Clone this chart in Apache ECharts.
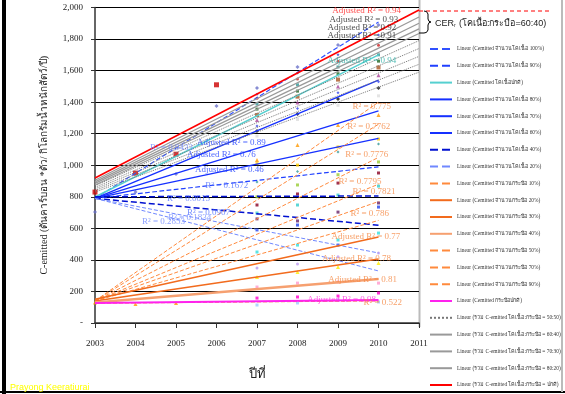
<!DOCTYPE html>
<html><head><meta charset="utf-8">
<script src="https://cdn.jsdelivr.net/npm/echarts@6/dist/echarts.min.js"></script>
<style>html,body{margin:0;padding:0;background:#fff}#c{width:565px;height:394px}</style>
</head><body><div id="c"></div><script>
// ---------- data ----------
const years = [2003, 2004, 2005, 2006, 2007, 2008, 2009, 2010];
const xTickLabels = ['2003','2004','2005','2006','2007','2008','2009','2010','2011'];
const yTicks = [0, 200, 400, 600, 800, 1000, 1200, 1400, 1600, 1800, 2000];

const legendNames = [
  'Linear (Cemitted จำนวนโคเนื้อ 100%)',
  'Linear (Cemitted จำนวนโคเนื้อ 90%)',
  'Linear (Cemitted โคเนื้อปกติ)',
  'Linear (Cemitted จำนวนโคเนื้อ 80%)',
  'Linear (Cemitted จำนวนโคเนื้อ 70%)',
  'Linear (Cemitted จำนวนโคเนื้อ 60%)',
  'Linear (Cemitted จำนวนโคเนื้อ 40%)',
  'Linear (Cemitted จำนวนโคเนื้อ 20%)',
  'Linear (Cemitted จำนวนกระบือ 10%)',
  'Linear (Cemitted จำนวนกระบือ 20%)',
  'Linear (Cemitted จำนวนกระบือ 30%)',
  'Linear (Cemitted จำนวนกระบือ 40%)',
  'Linear (Cemitted จำนวนกระบือ 50%)',
  'Linear (Cemitted จำนวนกระบือ 70%)',
  'Linear (Cemitted จำนวนกระบือ 90%)',
  'Linear (Cemitted กระบือปกติ)',
  'Linear (รวม C-emitted โคเนื้อ:กระบือ = 50:50)',
  'Linear (รวม C-emitted โคเนื้อ:กระบือ = 60:40)',
  'Linear (รวม C-emitted โคเนื้อ:กระบือ = 70:30)',
  'Linear (รวม C-emitted โคเนื้อ:กระบือ = 80:20)',
  'Linear (รวม C-emitted โคเนื้อ:กระบือ = ปกติ)'
];

// trend lines: legend index, value at 2003, value at end year, end year
const trendLegend  = [0,    1,   2,    3,    4,    5,    6,   6,   7,   7,   8,    12,   12,   13,  13,  14,  14,  9,   10,  11,  15,  20,   19,   18,   17,   17,   16,   16,   16,   16,   16];
const trendStart   = [790,  790, 799,  790,  790,  790,  800, 790, 790, 790, 140,  140,  140,  140, 140, 140, 125, 150, 140, 130, 127, 919,  905,  895,  885,  875,  870,  860,  850,  840,  830];
const trendEnd     = [1908, 990, 1700, 1540, 1345, 1170, 805, 620, 444, 330, 1400, 1260, 1050, 880, 770, 650, 140, 545, 405, 279, 146, 1984, 1940, 1900, 1865, 1835, 1790, 1740, 1690, 1640, 1590];
const trendEndYear = [2010, 2010,2010, 2010, 2010, 2010, 2010,2010,2010,2010,2010, 2010, 2010, 2010,2010,2010,2010,2010,2010,2010,2010,2011, 2011, 2011, 2011, 2011, 2011, 2011, 2011, 2011, 2011];

// observed points (2003..2010)
const ptsRedSquare = [830, 950, 1070, 1510, null, null, null, null];
const ptsBlueCross = [704, 830, 945, 1375, 1490, 1623, 1762, 1889];
const ptsTop1  = [null, null, null, null, 1450, 1585, 1700, 1825];
const ptsTop2  = [null, null, null, null, 1425, 1547, 1660, 1760];
const ptsTop3  = [null, null, null, null, 1388, 1510, 1623, 1700];
const ptsTop4  = [null, null, null, null, 1356, 1470, 1580, 1660];
const ptsTop5  = [null, null, null, null, 1318, 1435, 1543, 1620];
const ptsTop6  = [null, null, null, null, 1287, 1398, 1500, 1570];
const ptsTop7  = [null, null, null, null, 1249, 1360, 1460, 1530];
const ptsTop8  = [null, null, null, null, 1217, 1325, 1420, 1490];
const ptsTop9  = [null, null, null, null, 1185, 1290, 1380, 1440];
const ptsOrange = [130, 120, 127, null, 1033, 1128, 1255, 1318];
const ptsYellow = [null, null, null, null, 1010, 1001, 1116, 1166];
const ptsTeal   = [null, null, null, null, 894, 960, 1084, 1135];
const ptsGreen  = [null, null, null, null, 800, 875, 940, 1021];
const ptsDarkRed= [null, null, null, null, 748, 818, 887, 951];
const ptsCyan   = [null, null, null, null, 697, 748, 811, 868];
const ptsPurple = [null, null, null, null, 660, 647, 703, 761];
const ptsBlue   = [null, null, null, null, 590, 621, 494, 735];
const ptsCyan2  = [null, null, null, null, 450, 494, 526, 570];
const ptsLav    = [null, null, null, null, 349, 374, 420, 444];
const ptsYellow2= [null, null, null, null, 292, 323, 355, 380];
const ptsPink   = [null, null, null, null, 228, 253, 260, 253];
const ptsMagenta= [null, null, null, null, 158, 165, 171, 190];
const ptsLight  = [null, null, null, null, 114, 127, 146, 133];

// annotations: text, year, value
const annTexts  = ['Adjusted R² = 0.94','Adjusted R² = 0.93','Adjusted R² = 0.92','Adjusted R² = 0.91','Adjusted R² = 0.94',
  'R² = 0.775','R² = 0.7762','R² = 0.7776','R² = 0.7795','R² = 0.7821','R² = 0.786',
  'Adjusted R² = 0.77','Adjusted R² = 0.78','Adjusted R² = 0.81','Adjusted R² = 0.98','R² = 0.522',
  'Adjusted R² = 0.89','Adjusted R² = 0.76','Adjusted R² = 0.46','R² = 0.1672','R² = 0.0015','R² = 0.0907','R² = 0.1834','R² = 0.2853','R² = 0.9433'];
const annYears  = [2008.86,2008.79,2008.74,2008.74,2008.74, 2009.36,2009.23,2009.18,2009.01,2009.36,2009.31, 2008.84,2008.61,2008.76,2008.24,2009.63, 2005.52,2005.27,2005.47,2005.72,2004.78,2005.27,2004.81,2004.16,2004.36];
const annValues = [1978,1921,1870,1819,1661, 1369,1242,1065,894,830,691, 545,406,273,146,127, 1141,1065,970,868,786,697,666,640,1109];

// ---------- styles ----------
const legendStyle = [
  {c:'#3050ff', t:'dashed', w:1.2}, {c:'#2040ff', t:'dashed', w:1.2}, {c:'#55d0d0', t:'solid', w:1.5},
  {c:'#1530ff', t:'solid', w:1.3}, {c:'#1530ff', t:'solid', w:1.3}, {c:'#1530ff', t:'solid', w:1.3},
  {c:'#0010d0', t:'dashed', w:1.5}, {c:'#7088ff', t:'dashed', w:1},
  {c:'#ff8a3d', t:'dashed', w:1}, {c:'#f26b1d', t:'solid', w:1.5}, {c:'#f26b1d', t:'solid', w:1.5},
  {c:'#f6a070', t:'solid', w:2.5}, {c:'#ff8a3d', t:'dashed', w:1}, {c:'#ff8a3d', t:'dashed', w:1},
  {c:'#ff8a3d', t:'dashed', w:1}, {c:'#ff22ee', t:'solid', w:2},
  {c:'#777777', t:'dotted', w:1}, {c:'#999999', t:'solid', w:1.3}, {c:'#999999', t:'solid', w:1.3},
  {c:'#999999', t:'solid', w:1.3}, {c:'#ff0000', t:'solid', w:1.6}
];
const annColors = ['#ff2020','#222','#222','#222','#30b0a8',
  '#f58a45','#f58a45','#f58a45','#f58a45','#f58a45','#f58a45',
  '#f58a45','#f58a45','#f58a45','#ff33dd','#f58a45',
  '#2040ff','#2040ff','#2040ff','#5070ff','#5070ff','#5070ff','#6f88ff','#6f88ff','#6f88ff'];
const pointSets = [
  [ptsRedSquare,'#cc0000','rect',5],[ptsBlueCross,'#6a70c8','diamond',4],
  [ptsTop1,'#3344cc','diamond',3],[ptsTop2,'#cc2222','circle',3],[ptsTop3,'#339999','rect',3],
  [ptsTop4,'#226622','rect',3],[ptsTop5,'#aa5522','rect',4],[ptsTop6,'#aa4499','triangle',4],
  [ptsTop7,'#3344ee','diamond',3],[ptsTop8,'#111111','diamond',4],[ptsTop9,'#dddddd','rect',3],
  [ptsOrange,'#ff9900','triangle',4],[ptsYellow,'#ffcc00','rect',3],[ptsTeal,'#339999','diamond',3],
  [ptsGreen,'#99cc33','rect',3],[ptsDarkRed,'#880022','rect',3],[ptsCyan,'#33cccc','rect',3],
  [ptsPurple,'#662266','rect',3],[ptsBlue,'#2244ee','rect',3],[ptsCyan2,'#33dddd','rect',3],
  [ptsLav,'#bb99ee','circle',3],[ptsYellow2,'#ffee00','triangle',4],[ptsPink,'#ff99cc','rect',3],
  [ptsMagenta,'#ff00cc','rect',3],[ptsLight,'#99ccff','rect',3]
];

// ---------- build ----------
const series = [];
pointSets.forEach((p, i) => {
  series.push({
    name: 'pts' + i, type: 'scatter', symbol: p[2], symbolSize: p[3], z: 2,
    itemStyle: { color: p[1] },
    data: years.map((y, k) => p[0][k] == null ? null : [y, p[0][k]]).filter(d => d)
  });
});
trendLegend.forEach((li, i) => {
  const s = legendStyle[li];
  series.push({
    name: legendNames[li], type: 'line', symbol: 'none', showSymbol: false, z: 3, silent: true,
    lineStyle: { color: s.c, type: s.t, width: s.w }, itemStyle: { color: s.c, opacity: 0 },
    data: [[2003, trendStart[i]], [trendEndYear[i], trendEnd[i]]]
  });
});
series.push({
  name: 'ann', type: 'scatter', symbolSize: 0, z: 5, silent: true,
  data: annTexts.map((t, i) => ({
    value: [annYears[i], annValues[i]],
    label: { show: true, position: 'right', distance: 0, formatter: t,
      color: annColors[i], fontFamily: 'Liberation Serif', fontSize: 9 }
  }))
});

const chart = echarts.init(document.getElementById('c'), null, { renderer: 'canvas' });
const serif = 'Liberation Serif';
chart.setOption({
  animation: false,
  backgroundColor: '#ffffff',
  grid: { left: 95, right: 146, top: 7.5, bottom: 71 },
  xAxis: {
    type: 'value', min: 2003, max: 2011, interval: 1,
    axisLine: { lineStyle: { color: '#333', width: 1.5 } },
    axisTick: { show: true, length: 5, lineStyle: { color: '#333' } },
    axisLabel: { margin: 16, fontFamily: serif, fontSize: 9, color: '#222',
      formatter: v => xTickLabels[Math.round(v - 2003)] },
    splitLine: { show: false },
    name: 'ปีที่', nameLocation: 'middle', nameGap: 45,
    nameTextStyle: { fontFamily: serif, fontSize: 13, color: '#222' }
  },
  yAxis: {
    type: 'value', min: yTicks[0], max: yTicks[yTicks.length - 1], interval: 200,
    axisLine: { show: true, lineStyle: { color: '#333', width: 1.5 } },
    axisTick: { show: true, length: 4, lineStyle: { color: '#333' } },
    axisLabel: { margin: 12, fontFamily: serif, fontSize: 9, color: '#222',
      formatter: v => v === 0 ? '-' : v.toLocaleString('en-US') },
    splitLine: { lineStyle: { color: '#000', width: 1 } },
    name: 'C-emitted (ตันคาร์บอน *ตัว/ กิโลกรัมน้ำหนักสัตว์/ปี)', nameLocation: 'middle', nameGap: 46,
    nameTextStyle: { fontFamily: serif, fontSize: 10, color: '#222' }
  },
  legend: {
    data: legendNames, orient: 'vertical', left: 424, top: 41,
    itemWidth: 22, itemHeight: 6, itemGap: 10.8, selectedMode: false,
    itemStyle: { opacity: 0 },
    textStyle: { fontFamily: serif, fontSize: 5.4, lineHeight: 6, color: '#333' }
  },
  graphic: [
    { type: 'rect', shape: { x: 2, y: 0, width: 4, height: 394 }, style: { fill: '#000' }, silent: true },
    { type: 'line', shape: { x1: 0, y1: 392, x2: 565, y2: 392 }, style: { stroke: '#000', lineWidth: 2 }, silent: true },
    { type: 'line', shape: { x1: 562, y1: 0, x2: 562, y2: 392 }, style: { stroke: '#bbb', lineWidth: 2 }, silent: true },
    { type: 'line', shape: { x1: 419.5, y1: 0, x2: 419.5, y2: 327 }, style: { stroke: '#bbb', lineWidth: 2 }, silent: true },
    { type: 'line', shape: { x1: 419, y1: 11, x2: 549, y2: 11 }, style: { stroke: '#ff0000', lineWidth: 1, lineDash: [4, 3] }, silent: true },
    { type: 'line', shape: { x1: 419, y1: 33, x2: 424, y2: 33 }, style: { stroke: '#000', lineWidth: 1 }, silent: true },
    { type: 'polyline', shape: { points: [[424,11],[426.5,11.6],[428,14],[428,19],[429,21.3],[431,22],[429,22.7],[428,25],[428,30],[426.5,32.4],[424,33]] },
      style: { stroke: '#000', fill: null, lineWidth: 1 }, silent: true },
    { type: 'text', left: 435, top: 19, silent: true,
      style: { text: 'CER', fill: '#222', font: '9px "Liberation Sans"' } },
    { type: 'text', left: 454, top: 23, silent: true,
      style: { text: 'r', fill: '#222', font: '5px "Liberation Sans"' } },
    { type: 'text', left: 459, top: 19, silent: true,
      style: { text: '(โคเนื้อ:กระบือ=60:40)', fill: '#222', font: '9px "Liberation Sans"' } },
    { type: 'text', left: 10, top: 383, silent: true,
      style: { text: 'Prayong Keeratiurai', fill: '#ffff00', font: '9px "Liberation Sans"' } }
  ],
  series: series
});
</script></body></html>
